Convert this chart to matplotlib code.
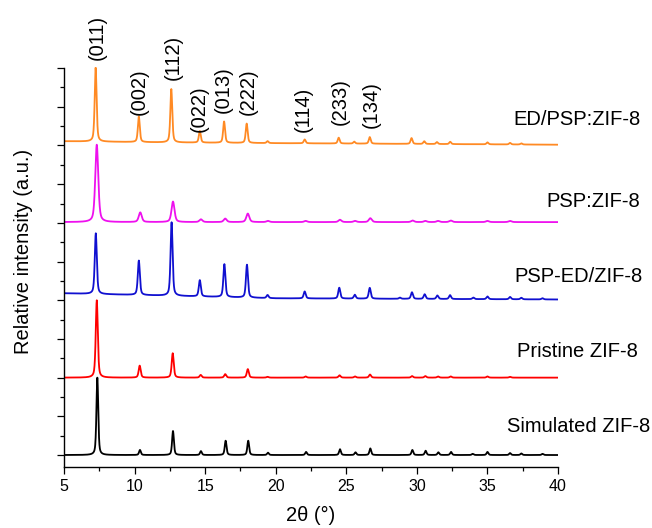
import numpy as np
import matplotlib.pyplot as plt
from matplotlib.ticker import MultipleLocator

plt.rcParams['font.family'] = ['Liberation Sans', 'DejaVu Sans']

# peak lists: 2theta (deg) and height above baseline (a.u.)
sim_pos = [7.36, 10.38, 12.72, 14.70, 16.45, 18.05, 19.45, 22.15, 24.55, 25.65, 26.70,
           29.68, 30.62, 31.52, 32.42, 33.95, 35.00, 36.60, 37.40, 38.90]
sim_h = [2.00, 0.13, 0.62, 0.10, 0.37, 0.37, 0.06, 0.08, 0.15, 0.07, 0.17,
         0.13, 0.11, 0.07, 0.08, 0.03, 0.08, 0.05, 0.04, 0.03]

pri_pos = [7.32, 10.36, 12.70, 14.68, 16.42, 18.02, 19.42, 22.12, 24.52, 25.62, 26.68,
           29.66, 30.60, 31.50, 32.40, 35.00, 36.60]
pri_h = [2.00, 0.31, 0.63, 0.07, 0.09, 0.22, 0.02, 0.03, 0.06, 0.03, 0.08,
         0.04, 0.04, 0.03, 0.03, 0.03, 0.02]

ped_pos = [7.25, 10.30, 12.62, 14.62, 16.36, 17.96, 19.42, 22.05, 24.50, 25.60, 26.66,
           28.80, 29.65, 30.55, 31.45, 32.35, 34.00, 35.00, 36.60, 37.40, 38.90]
ped_h = [1.57, 0.89, 1.90, 0.42, 0.85, 0.85, 0.08, 0.18, 0.28, 0.10, 0.28,
         0.03, 0.17, 0.12, 0.09, 0.10, 0.04, 0.07, 0.06, 0.04, 0.03]

psp_pos = [7.32, 10.40, 12.72, 14.70, 16.42, 18.02, 19.45, 22.12, 24.55, 25.62, 26.70,
           29.70, 30.60, 31.50, 32.40, 35.00, 36.60]
psp_h = [2.00, 0.25, 0.53, 0.07, 0.09, 0.22, 0.03, 0.03, 0.06, 0.03, 0.10,
         0.04, 0.03, 0.03, 0.04, 0.03, 0.03]

ed_pos = [7.24, 10.30, 12.60, 14.62, 16.34, 17.94, 19.42, 22.05, 24.46, 25.56, 26.66,
          29.62, 30.52, 31.42, 32.36, 35.00, 36.60, 37.40]
ed_h = [1.91, 0.66, 1.38, 0.30, 0.55, 0.50, 0.05, 0.10, 0.15, 0.05, 0.17,
        0.15, 0.07, 0.05, 0.06, 0.05, 0.04, 0.03]

# baseline levels read at a few 2theta points (stacked offsets)
base_x = [5, 12, 20, 40]
sim_base = [0.00, 0.00, 0.00, 0.00]
pri_base = [2.00, 2.00, 2.00, 2.00]
ped_base = [4.18, 4.12, 4.05, 4.02]
psp_base = [6.02, 6.02, 6.02, 6.02]
ed_base = [8.11, 8.08, 8.06, 8.02]

names = ['Simulated ZIF-8', 'Pristine ZIF-8', 'PSP-ED/ZIF-8', 'PSP:ZIF-8', 'ED/PSP:ZIF-8']
hkl = ['(011)', '(002)', '(112)', '(022)', '(013)', '(222)', '(114)', '(233)', '(134)']
hkl_x = [7.34, 10.31, 12.72, 14.57, 16.27, 18.04, 21.93, 24.56, 26.75]

colors = ['#000000', '#FF0000', '#1010D0', '#EE10EE', '#FF8A24']
fwhm = [0.15, 0.17, 0.17, 0.25, 0.16]

tt = np.arange(5, 40.001, 0.01)


def pattern(pos, h, w, by):
    y = np.interp(tt, base_x, by)
    for p, a in zip(pos, h):
        d = (tt - p) / w
        y = y + a * (0.5 * np.exp(-4 * np.log(2) * d ** 2) + 0.5 / (1 + 4 * d ** 2))
    return y


fig = plt.figure(figsize=(6.52, 5.28), dpi=100)
ax = fig.add_axes([0.0982, 0.1155, 0.7577, 0.757])

curves = [(sim_pos, sim_h, sim_base), (pri_pos, pri_h, pri_base), (ped_pos, ped_h, ped_base),
          (psp_pos, psp_h, psp_base), (ed_pos, ed_h, ed_base)]
for i, (pos, h, by) in enumerate(curves):
    ax.plot(tt, pattern(pos, h, fwhm[i], by), color=colors[i], lw=1.3)

# curve names on the right, outside the axes
lab_x = [46.52, 45.67, 46.02, 45.81, 45.88]
lab_y = [0.60, 2.54, 4.46, 6.40, 8.52]
for i in range(5):
    ax.text(lab_x[i], lab_y[i], names[i], ha='right', va='baseline', fontsize=14.5, clip_on=False)

hkl_y = [10.20, 8.78, 9.69, 8.34, 8.85, 8.78, 8.34, 8.52, 8.45]
for i in range(len(hkl)):
    ax.text(hkl_x[i], hkl_y[i], hkl[i], rotation=90, ha='center', va='bottom', fontsize=14.5, clip_on=False)

ax.set_xlim(5, 40)
ax.set_ylim(-0.31, 10.02)
ax.xaxis.set_major_locator(MultipleLocator(5))
ax.xaxis.set_minor_locator(MultipleLocator(2.5))
ax.yaxis.set_major_locator(MultipleLocator(1))
ax.yaxis.set_minor_locator(MultipleLocator(0.5))
ax.set_yticklabels([])
ax.tick_params(which='major', direction='out', length=5, width=0.9, labelsize=11.5)
ax.tick_params(which='minor', direction='out', length=3, width=0.9)
for s in ['top', 'right']:
    ax.spines[s].set_visible(False)
for s in ['left', 'bottom']:
    ax.spines[s].set_linewidth(1.0)
ax.spines['left'].set_bounds(-0.31, 10)

ax.set_xlabel('2θ (°)', fontsize=14.5, labelpad=9)
ax.set_ylabel('Relative intensity (a.u.)', fontsize=14.5)
ax.yaxis.set_label_coords(-0.062, 0.54)

plt.savefig('out.png', dpi=100)
